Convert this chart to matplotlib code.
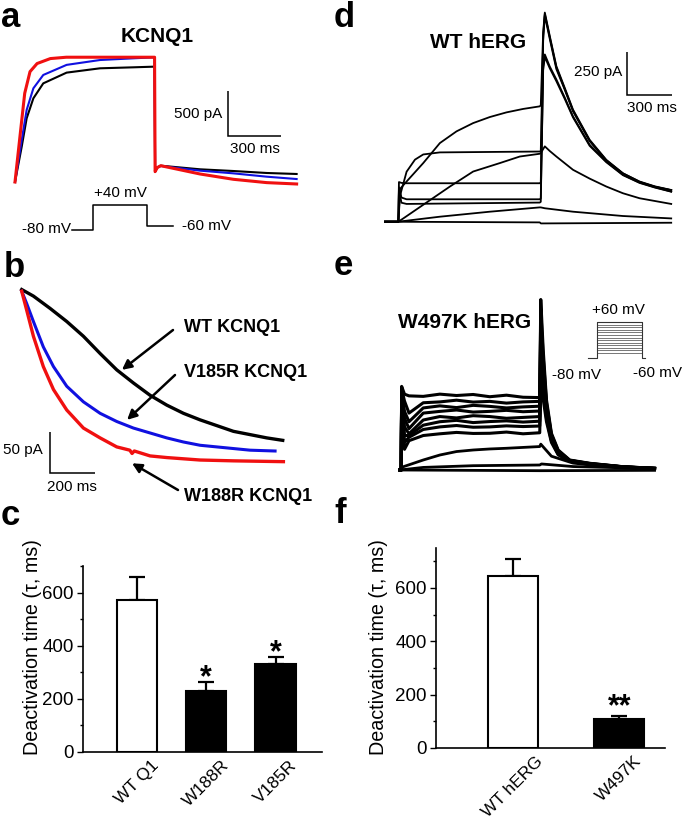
import matplotlib
matplotlib.use("Agg")
import matplotlib.pyplot as plt

plt.rcParams["font.family"] = ["Liberation Sans", "DejaVu Sans"]

# ---- panel a: KCNQ1 currents (ms, pA) ----
a_black_t = [0, 38, 66, 104, 160, 292, 481, 670, 783, 790, 793, 805, 825, 1047, 1236, 1425, 1594]
a_black_i = [0, 392, 707, 929, 1095, 1214, 1262, 1273, 1280, 1282, 115, 160, 181, 141, 122, 100, 89]
a_blue_t = [0, 38, 66, 104, 160, 292, 481, 670, 790, 793, 805, 825, 1047, 1236, 1425, 1594]
a_blue_i = [0, 466, 800, 1040, 1188, 1300, 1354, 1373, 1384, 115, 160, 178, 126, 96, 59, 33]
a_red_t = [0, 30, 55, 85, 125, 200, 290, 790, 793, 805, 825, 1047, 1236, 1425, 1594]
a_red_i = [0, 540, 985, 1225, 1315, 1370, 1385, 1385, 115, 160, 181, 89, 30, -7, -22]
prot_a_t = [0, 210, 210, 750, 750, 1010]
prot_a_v = [-80, -80, 40, 40, -60, -60]

# ---- panel b: deactivation (ms, pA) ----
b_black_t = [0, 52, 126, 200, 274, 348, 422, 496, 570, 644, 718, 792, 866, 940, 1014, 1088, 1159]
b_black_i = [212, 204, 189, 173, 155, 134, 114, 98, 83, 71, 61, 53, 46, 39, 35, 31, 28]
b_blue_t = [0, 22, 52, 96, 141, 200, 274, 348, 422, 496, 570, 644, 718, 792, 866, 940, 1014, 1125]
b_blue_i = [210, 195, 173, 142, 118, 94, 75, 61, 51, 43, 37, 31, 26, 22, 20, 18, 16, 15]
b_red_t = [0, 22, 52, 96, 141, 200, 274, 348, 422, 480, 490, 500, 570, 644, 792, 940, 1162]
b_red_i = [210, 187, 155, 118, 90, 65, 43, 31, 20, 16, 12, 15, 9, 7, 4, 3, 2]

# ---- panel d: WT hERG family (ms, pA) ----
d_traces = [
    ([0, 89, 100, 144, 255, 366, 477, 588, 699, 810, 921, 1032, 1039, 1055, 1066, 1099, 1143, 1199, 1254, 1365, 1476, 1587, 1698, 1800, 1909],
     [0, 0, 190, 233, 340, 456, 524, 572, 607, 634, 654, 669, 675, 1100, 1213, 1077, 902, 776, 650, 475, 359, 281, 233, 205, 184]),
    ([0, 89, 100, 144, 200, 255, 366, 1032, 1039, 1055, 1066, 1099, 1143, 1199, 1254, 1365, 1476, 1587, 1698, 1800, 1909],
     [0, 0, 150, 290, 360, 390, 402, 407, 410, 1050, 1195, 1060, 885, 765, 640, 468, 354, 278, 230, 202, 182]),
    ([0, 89, 93, 110, 144, 1032, 1039, 1055, 1066, 1099, 1143, 1199, 1254, 1365, 1476, 1587, 1698, 1800, 1909],
     [0, 0, 230, 225, 223, 223, 225, 1080, 1205, 1070, 895, 770, 645, 470, 356, 280, 231, 203, 183]),
    ([0, 89, 93, 110, 144, 1032, 1039, 1055, 1066, 1099, 1143, 1199, 1254, 1365, 1476, 1587, 1698, 1800, 1909],
     [0, 0, 200, 140, 130, 130, 135, 900, 970, 900, 825, 720, 611, 446, 349, 272, 227, 200, 175]),
    ([0, 89, 93, 110, 144, 1032, 1039, 1055, 1066, 1099, 1143, 1199, 1254, 1365, 1476, 1587, 1698, 1800, 1909],
     [0, 0, 180, 110, 103, 111, 115, 880, 955, 890, 815, 712, 605, 440, 345, 270, 225, 198, 174]),
    ([0, 89, 122, 433, 588, 766, 899, 1032, 1039, 1066, 1099, 1143, 1254, 1365, 1476, 1587, 1698, 1909],
     [0, 0, 19, 204, 291, 340, 378, 394, 398, 437, 410, 378, 301, 250, 204, 165, 136, 103]),
    ([0, 89, 366, 699, 1032, 1039, 1066, 1254, 1587, 1909],
     [0, 0, 29, 58, 83, 83, 78, 58, 33, 19]),
    ([0, 1032, 1040, 1909],
     [0, -4, -10, -6]),
]

# ---- panel e: W497K hERG family (ms, pA) ----
e_hi_t = [0, 8, 11, 30, 60, 155, 266, 377, 488, 599, 710, 821, 932, 939, 955, 977, 1010, 1055, 1132, 1265, 1487, 1698]
e_hi_i = [
    [0, 0, 485, 440, 430, 427, 440, 432, 438, 425, 434, 422, 420, 989, 700, 407, 213, 116, 58, 39, 19, 10],
    [0, 0, 470, 400, 330, 390, 395, 405, 394, 398, 388, 395, 398, 930, 660, 390, 205, 112, 56, 38, 19, 10],
    [0, 0, 460, 340, 280, 360, 372, 362, 375, 369, 360, 366, 370, 870, 620, 372, 198, 108, 55, 37, 18, 10],
    [0, 0, 450, 300, 240, 330, 340, 348, 336, 340, 346, 338, 342, 800, 580, 355, 190, 104, 54, 36, 18, 9],
    [0, 0, 440, 250, 210, 290, 310, 302, 315, 310, 300, 305, 310, 720, 540, 335, 182, 100, 53, 35, 18, 9],
    [0, 0, 430, 200, 200, 260, 280, 288, 275, 281, 285, 278, 283, 640, 500, 318, 175, 96, 52, 34, 17, 9],
    [0, 0, 420, 160, 190, 235, 250, 258, 248, 250, 256, 252, 255, 560, 460, 300, 168, 92, 51, 33, 17, 9],
    [0, 0, 400, 120, 170, 200, 210, 218, 212, 213, 220, 210, 216, 470, 410, 280, 160, 88, 50, 32, 16, 8],
]
e_lo_traces = [
    ([0, 22, 155, 266, 377, 488, 599, 710, 843, 932, 939, 1010, 1154, 1376, 1698],
     [0, 19, 58, 87, 107, 116, 122, 126, 132, 136, 150, 80, 40, 20, 10]),
    ([0, 155, 488, 932, 944, 1154, 1698],
     [0, 15, 25, 29, 35, 20, 8]),
    ([0, 932, 1698],
     [0, -4, -2]),
]
prot_e_levels = [-60, -50, -40, -30, -20, -10, 0, 10, 20, 30, 40, 50, 60]
prot_e_t = [0, 90, 540, 570]

# ---- bar charts ----
c_labels = ["WT Q1", "W188R", "V185R"]
c_mean = [572, 229, 331]
c_err = [88, 35, 27]
c_fill = ["white", "black", "black"]
c_stars = ["", "*", "*"]

f_labels = ["WT hERG", "W497K"]
f_mean = [646, 110]
f_err = [64, 9]
f_fill = ["white", "black"]
f_stars = ["", "**"]

W, H = 685, 819
fig = plt.figure(figsize=(W / 100, H / 100), dpi=100)


def fbox(x0, y0, x1, y1):
    return [x0 / W, 1 - y1 / H, (x1 - x0) / W, (y1 - y0) / H]


def ftext(x, y, s, **kw):
    fig.text(x / W, 1 - y / H, s, **kw)


def trace_axes(box, origin, xs, ys):
    ax = fig.add_axes(fbox(*box))
    ax.set_xlim((box[0] - origin[0]) * xs, (box[2] - origin[0]) * xs)
    ax.set_ylim((origin[1] - box[3]) * ys, (origin[1] - box[1]) * ys)
    ax.set_axis_off()
    return ax


def scalebar(ax, t0, i0, dt, di):
    ax.plot([t0, t0, t0 + dt], [i0 + di, i0, i0], color="black", lw=1.1,
            solid_joinstyle="miter", solid_capstyle="butt")


LBL = dict(fontsize=11)
BOLD = dict(fontsize=13, fontweight="bold")

# panel a
ax = trace_axes((0, 0, 340, 250), (15, 182), 5.66, 11.1)
ax.plot(a_black_t, a_black_i, color="black", lw=1.5)
ax.plot(a_blue_t, a_blue_i, color="#1010e0", lw=1.5)
ax.plot(a_red_t, a_red_i, color="#f01010", lw=2.2)
scalebar(ax, 1206, 511, 300, 500)
ftext(222, 114, "500 pA", ha="right", va="center", **LBL)
ftext(255, 149, "300 ms", ha="center", va="center", **LBL)
ftext(157, 37, "KCNQ1", ha="center", va="center", fontsize=15, fontweight="bold")
axp = trace_axes((60, 195, 190, 240), (72, 213.3), 10, 4.8)
axp.plot(prot_a_t, prot_a_v, color="black", lw=1.1)
ftext(71, 229, "-80 mV", ha="right", va="center", **LBL)
ftext(120, 193, "+40 mV", ha="center", va="center", **LBL)
ftext(182, 226, "-60 mV", ha="left", va="center", **LBL)

# panel b
ax = trace_axes((0, 250, 340, 500), (21.7, 463.3), 4.44, 1.22)
ax.plot(b_black_t, b_black_i, color="black", lw=2.4)
ax.plot(b_blue_t, b_blue_i, color="#1010e0", lw=2.2)
ax.plot(b_red_t, b_red_i, color="#f01010", lw=2.4)
scalebar(ax, 126, -11.8, 200, 50)
ftext(43, 450, "50 pA", ha="right", va="center", **LBL)
ftext(72, 487, "200 ms", ha="center", va="center", **LBL)
arrow = dict(arrowstyle="-|>", color="black", lw=1.8, mutation_scale=14,
             shrinkA=0, shrinkB=0)
for tip, tail, text, ty in [((445, 114), (173, 330), "WT KCNQ1", 328),
                            ((468, 53), (175, 375), "V185R KCNQ1", 373),
                            ((490, 0), (178, 490), "W188R KCNQ1", 497)]:
    ax.annotate("", xy=tip, xytext=(tail[0] / W, 1 - tail[1] / H),
                textcoords="figure fraction", arrowprops=arrow)
    ftext(184, ty, text, ha="left", va="center", **BOLD)

# panel d
ax = trace_axes((340, 0, 685, 250), (385, 221.7), 6.67, 5.8)
for t, i in d_traces:
    ax.plot(t, i, color="black", lw=1.3)
scalebar(ax, 1614, 735, 300, 250)
ftext(622, 72, "250 pA", ha="right", va="center", **LBL)
ftext(652, 108, "300 ms", ha="center", va="center", **LBL)
ftext(478, 42, "WT hERG", ha="center", va="center", fontsize=15, fontweight="bold")

# panel e
ax = trace_axes((340, 250, 685, 500), (400, 470), 6.67, 5.8)
for i in e_hi_i:
    ax.plot(e_hi_t, i, color="black", lw=2.2)
for t, i in e_lo_traces:
    ax.plot(t, i, color="black", lw=2.0)
ftext(465, 323, "W497K hERG", ha="center", va="center", fontsize=15, fontweight="bold")
axp = trace_axes((580, 312, 650, 362), (588, 337.5), 10, 3.9)
for v in prot_e_levels:
    axp.plot([prot_e_t[1], prot_e_t[2]], [v, v], color="#777777", lw=0.7)
axp.plot([prot_e_t[0], prot_e_t[1], prot_e_t[1], prot_e_t[2], prot_e_t[2], prot_e_t[3]],
         [-80, -80, prot_e_levels[-1], prot_e_levels[-1], -80, -80], color="#333333", lw=0.8)
ftext(618, 310, "+60 mV", ha="center", va="center", **LBL)
ftext(552, 375, "-80 mV", ha="left", va="center", **LBL)
ftext(633, 373, "-60 mV", ha="left", va="center", **LBL)


def bar_panel(box, labels, mean, err, fill, stars, xlim, ylim, width, star_dy):
    ax = fig.add_axes(fbox(*box))
    x = list(range(1, len(labels) + 1))
    ax.bar(x, mean, width=width, color=fill, edgecolor="black", linewidth=1.5, zorder=3)
    ax.errorbar(x, mean, yerr=[[0] * len(err), err], fmt="none", ecolor="black",
                elinewidth=1.6, capsize=6, capthick=1.6, zorder=2)
    for xi, m, e, s in zip(x, mean, err, stars):
        if s:
            ax.annotate(s, xy=(xi, m + e), xytext=(0, star_dy), textcoords="offset points",
                        ha="center", va="baseline", fontsize=22, fontweight="bold")
    ax.set_xlim(*xlim)
    ax.set_ylim(*ylim)
    ax.set_xticks(x)
    ax.set_xticklabels(labels, rotation=45, fontsize=12.5)
    ax.tick_params(axis="x", length=0, pad=4)
    ax.set_yticks([0, 200, 400, 600])
    ax.set_yticks([100, 300, 500, 700], minor=True)
    ax.tick_params(axis="y", which="major", direction="out", length=4.5, width=1, pad=2,
                   labelsize=13.5)
    ax.tick_params(axis="y", which="minor", direction="out", length=2.5, width=1)
    for s in ("top", "right"):
        ax.spines[s].set_visible(False)
    for s in ("left", "bottom"):
        ax.spines[s].set_linewidth(1.2)
    return ax


bar_panel((83, 566, 322, 752), c_labels, c_mean, c_err, c_fill, c_stars,
          (0.22, 3.67), (0, 700), 0.58, -3)
ftext(33, 647, "Deactivation time (τ, ms)", rotation=90, ha="center", va="center",
      fontsize=14.2)
bar_panel((436, 548, 665, 748), f_labels, f_mean, f_err, f_fill, f_stars,
          (0.277, 2.43), (0, 750), 0.47, 1)
ftext(379, 647, "Deactivation time (τ, ms)", rotation=90, ha="center", va="center",
      fontsize=14.2)

# panel letters
for x, y, s in [(1, 27, "a"), (4, 277, "b"), (1, 525, "c"),
                (334, 27, "d"), (334, 275, "e"), (334, 523, "f")]:
    ftext(x, y, s, ha="left", va="baseline", fontsize=25, fontweight="bold")

fig.savefig("out.png", dpi=100)
